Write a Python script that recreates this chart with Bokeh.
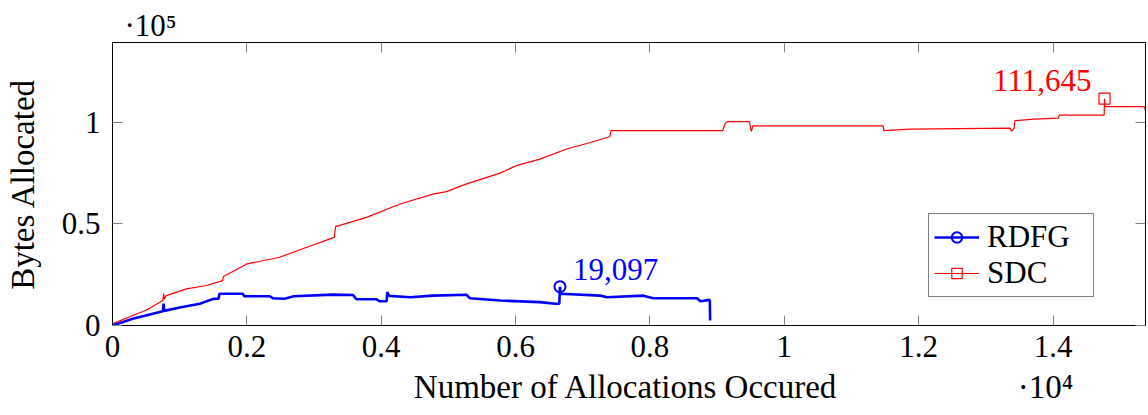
from bokeh.plotting import figure
from bokeh.models import Range1d, LinearAxis, FixedTicker, Label, Legend, LegendItem, Title
from bokeh.embed import file_html
from bokeh.resources import INLINE

# ---- data ----
sdc_x = [0, 300, 500, 750, 760, 770, 800, 1100, 1400, 1640, 1650, 2000, 2490, 2890,
         3300, 3320, 3780, 4280, 4770, 4970, 5270, 5770, 6010, 6360, 6760, 7110,
         7400, 7420, 9080, 9120, 9160, 9480, 9500, 9510, 9530, 11470, 11480, 11870,
         13360, 13380, 13420, 13430, 13710, 14080, 14090, 14760, 14765, 14770, 15360, 15375]
sdc_y = [800, 4900, 7500, 12300, 15700, 13000, 14700, 18000, 19700, 22100, 24100, 30300,
         33600, 38500, 43400, 48700, 53200, 59800, 64700, 65900, 69700, 75000, 78700,
         81900, 86900, 90100, 92900, 95900, 95900, 99500, 100400, 100400, 96700, 95500,
         98300, 98300, 95900, 96700, 97200, 95500, 97200, 100800, 101600, 102100, 103600,
         103600, 111645, 107700, 107700, 105700]

rdfg_x = [0, 300, 600, 750, 760, 770, 1000, 1300, 1500, 1580, 1590, 1940, 1960, 2340,
          2390, 2560, 2700, 3280, 3580, 3630, 3930, 3980, 4080, 4090, 4120, 4430, 4770,
          5270, 5320, 5770, 6360, 6590, 6650, 6660, 6670, 7260, 7360, 7900, 8050, 8700,
          8750, 8890, 8895]
rdfg_y = [0, 3300, 5800, 7000, 10800, 7200, 8900, 10700, 13100, 13200, 15600, 15600,
          14400, 14400, 13400, 13200, 14400, 15200, 15000, 12900, 12900, 11900, 11900,
          16400, 14600, 13900, 14700, 15100, 13400, 12300, 11500, 10700, 10700, 19097,
          15600, 14700, 13900, 14700, 13400, 13400, 11900, 12600, 2500]

rdfg_peak = (6660, 19097)
sdc_peak = (14765, 111645)
rdfg_peak_label = "19,097"
sdc_peak_label = "111,645"

x_ticks = [0, 2000, 4000, 6000, 8000, 10000, 12000, 14000]
x_tick_labels = ["0", "0.2", "0.4", "0.6", "0.8", "1", "1.2", "1.4"]
y_ticks = [0, 50000, 100000]
y_tick_labels = ["0", "0.5", "1"]

x_title = "Number of Allocations Occured"
y_title = "Bytes Allocated"
x_mult = "·10⁴"
y_mult = "·10⁵"

X_MAX = 15375
Y_MAX = 139300

FONT = "Liberation Serif"
FS = "31px"
FS_AX = "33px"

p = figure(width=1148, height=415, x_range=Range1d(0, X_MAX), y_range=Range1d(0, Y_MAX),
           output_backend="svg", toolbar_location=None,
           min_border_left=112, min_border_right=3, min_border_top=42, min_border_bottom=90)
p.background_fill_color = "white"
p.border_fill_color = "white"
p.outline_line_color = "black"
p.outline_line_width = 1
p.grid.visible = False

def style_axis(ax, labels=True):
    ax.axis_line_color = "black"
    ax.axis_line_width = 1
    ax.major_tick_in = 10
    ax.major_tick_out = 0
    ax.major_tick_line_color = "#808080"
    ax.minor_tick_line_color = None
    ax.major_label_text_font = FONT
    if labels:
        ax.major_label_text_font_size = FS
        ax.major_label_text_color = "black"
    else:
        ax.major_label_text_font_size = "1px"
        ax.major_label_text_color = None
    ax.axis_label_text_font = FONT
    ax.axis_label_text_font_size = FS_AX
    ax.axis_label_text_font_style = "normal"
    ax.axis_label_text_color = "black"

xax = p.xaxis[0]
yax = p.yaxis[0]
xax.ticker = FixedTicker(ticks=x_ticks)
xax.major_label_overrides = dict(zip(x_ticks, x_tick_labels))
yax.ticker = FixedTicker(ticks=y_ticks)
yax.major_label_overrides = dict(zip(y_ticks, y_tick_labels))
style_axis(xax)
style_axis(yax)
# x title centred on the frame, with the multiplier at its right end
EM, EN = "\u2003", "\u2002"
xax.axis_label = EM * 7 + x_title + EM * 5 + EN + x_mult
yax.axis_label = y_title
xax.major_label_standoff = 10
yax.major_label_standoff = 12
xax.axis_label_standoff = 9
yax.axis_label_standoff = 18

top = LinearAxis(ticker=FixedTicker(ticks=x_ticks), major_label_standoff=0)
right = LinearAxis(ticker=FixedTicker(ticks=y_ticks), major_label_standoff=0)
style_axis(top, labels=False)
style_axis(right, labels=False)
p.add_layout(top, "above")
p.add_layout(right, "right")

p.add_layout(Title(text=y_mult, align="left", offset=12, standoff=0,
                   text_font=FONT, text_font_size=FS, text_font_style="normal",
                   text_color="black"), "above")

# ---- series ----
r_line = p.line(sdc_x, sdc_y, line_color="red", line_width=1.2)
r_mark = p.scatter([sdc_peak[0]], [sdc_peak[1]], marker="square", size=11,
                   line_color="red", fill_alpha=0, line_width=1.2)
b_line = p.line(rdfg_x, rdfg_y, line_color="blue", line_width=2.6)
b_mark = p.scatter([rdfg_peak[0]], [rdfg_peak[1]], marker="circle", size=11,
                   line_color="blue", fill_alpha=0, line_width=2)

p.add_layout(Label(x=rdfg_peak[0], y=rdfg_peak[1], x_offset=13, y_offset=17,
                   text=rdfg_peak_label, text_color="blue", text_font=FONT,
                   text_font_size=FS, text_baseline="alphabetic", text_align="left"))
p.add_layout(Label(x=sdc_peak[0], y=sdc_peak[1], x_offset=-13, y_offset=18,
                   text=sdc_peak_label, text_color="red", text_font=FONT,
                   text_font_size=FS, text_baseline="alphabetic", text_align="right"))

# ---- legend ----
legend = Legend(items=[LegendItem(label="RDFG", renderers=[b_line, b_mark]),
                       LegendItem(label="SDC", renderers=[r_line, r_mark])],
                location=(816, 28), orientation="vertical",
                label_text_font=FONT, label_text_font_size=FS, label_text_color="black",
                glyph_width=45, glyph_height=26, label_standoff=8,
                padding=5, spacing=0, margin=0, label_width=101,
                border_line_color="black", border_line_width=1,
                background_fill_color="white", background_fill_alpha=1)
p.add_layout(legend, "center")

open("out.html", "w").write(file_html(p, INLINE))
